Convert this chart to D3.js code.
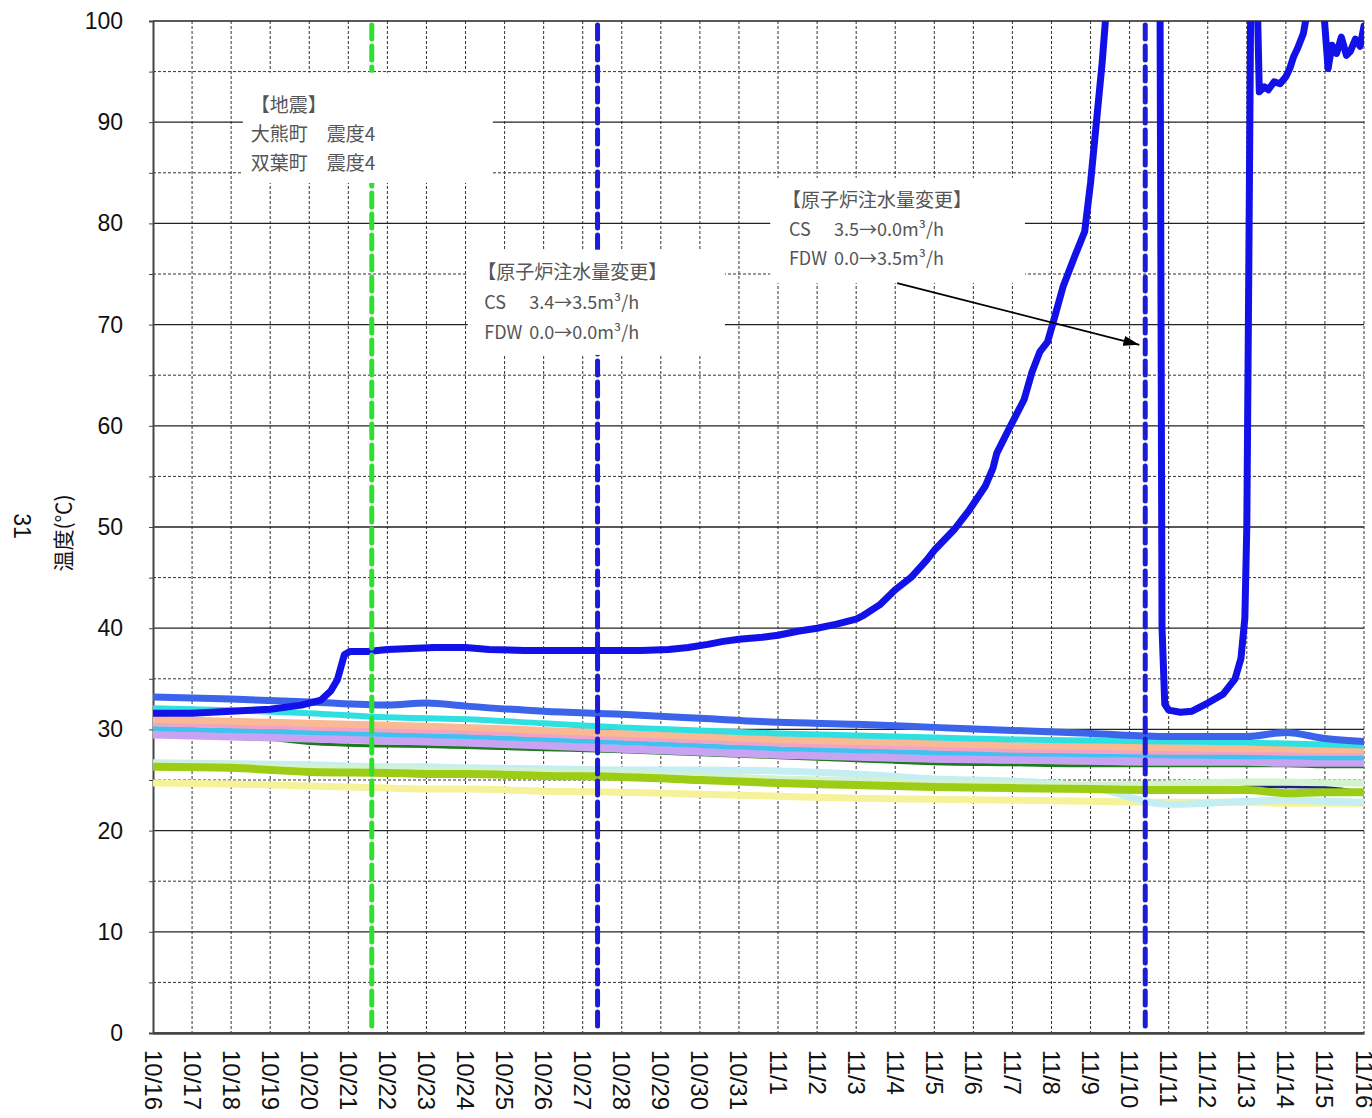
<!DOCTYPE html>
<html><head><meta charset="utf-8">
<script src="https://cdn.jsdelivr.net/npm/d3@7"></script>
<style>
html,body{margin:0;padding:0;background:#fff;}
svg{display:block;}
</style></head><body>
<svg id="chart" width="1372" height="1118"></svg>
<script>
// ---------- DATA ----------
const tickLabels = ["10/16","10/17","10/18","10/19","10/20","10/21","10/22","10/23","10/24","10/25","10/26","10/27","10/28","10/29","10/30","10/31",
  "11/1","11/2","11/3","11/4","11/5","11/6","11/7","11/8","11/9","11/10","11/11","11/12","11/13","11/14","11/15","11/16"];
const yTickValues = [0,10,20,30,40,50,60,70,80,90,100];

// days since 10/16 for the slowly-varying series
const bandDays   = [0, 2, 4, 6, 7, 8, 10, 12, 14, 16, 18, 20, 22, 24, 26, 28, 29, 30, 31];
const darkGreen  = [29.8,29.5,28.6,28.35,28.3,28.2,28.0,27.8,27.5,27.2,26.9,26.6,26.5,26.4,26.4,26.4,26.4,26.3,26.3];
const lavender   = [29.5,29.3,29.1,28.9,28.8,28.7,28.4,28.1,27.8,27.5,27.3,27.1,27.0,26.9,26.8,26.8,26.7,26.7,26.7];
const skyBlue    = [30.1,29.9,29.7,29.5,29.4,29.3,29.0,28.7,28.4,28.1,27.9,27.7,27.6,27.5,27.4,27.3,27.3,27.2,27.2];
const pink       = [30.6,30.4,30.2,30.0,29.9,29.8,29.5,29.2,28.9,28.6,28.4,28.2,28.0,27.9,27.8,27.8,27.7,27.7,27.7];
const peach      = [31.0,30.8,30.6,30.4,30.3,30.2,29.9,29.6,29.3,29.0,28.8,28.6,28.4,28.3,28.2,28.1,28.1,28.0,28.0];
const cyan       = [32.1,31.9,31.6,31.2,31.1,31.0,30.6,30.2,29.9,29.6,29.4,29.2,29.0,28.9,28.8,28.7,28.6,28.5,28.4];
const royalBlue  = [33.2,33.0,32.7,32.4,32.6,32.3,31.8,31.5,31.1,30.7,30.5,30.2,29.9,29.6,29.3,29.3,29.7,29.1,28.8];
const paleCyan   = [26.7,26.6,26.5,26.3,26.3,26.2,26.1,26.0,26.0,25.9,25.6,25.1,24.9,24.3,22.6,22.9,23.0,22.9,22.8];
const mint       = [26.5,26.4,26.2,26.1,26.0,26.0,25.8,25.7,25.4,25.1,24.9,24.7,24.6,24.5,24.6,24.8,24.8,24.7,24.7];
const paleYellow = [24.7,24.6,24.4,24.2,24.1,24.1,23.9,23.8,23.6,23.4,23.2,23.1,23.0,22.9,22.8,22.8,22.7,22.7,22.7];
const navy       = [26.2,26.1,25.8,25.7,25.7,25.6,25.4,25.3,25.0,24.7,24.5,24.3,24.2,24.1,24.0,24.3,24.3,24.25,23.8];
const yellowGreen= [26.3,26.2,25.8,25.7,25.6,25.6,25.4,25.3,25.0,24.7,24.5,24.3,24.2,24.1,24.0,24.0,23.7,23.8,23.8];

// main (rising) temperature
const mainDays = [0,1,2,3,3.8,4.3,4.55,4.72,4.9,5.05,5.5,6,6.6,7.2,8,8.6,9.5,10.5,11.5,12.5,13.2,13.7,14.2,14.6,15,15.6,16,16.5,17,17.5,18,18.2,18.6,19,19.4,19.8,20,20.5,20.9,21.3,21.5,21.6,21.9,22.3,22.5,22.7,22.9,23.05,23.3,23.6,23.85,24.0,24.15,24.3,24.42,24.55,25.7,25.78,25.83,25.9,26.0,26.3,26.6,27.0,27.4,27.7,27.85,27.95,28.0,28.05,28.1,28.15,28.22,28.28,28.32,28.45,28.55,28.7,28.85,29.0,29.1,29.2,29.3,29.45,29.55,29.6,29.9,29.97,30.08,30.18,30.3,30.42,30.55,30.65,30.78,30.9,31.0];
const mainVals = [31.6,31.6,31.8,32.0,32.4,32.9,33.8,34.9,37.4,37.7,37.7,37.9,38.0,38.1,38.1,37.9,37.8,37.8,37.8,37.8,37.9,38.1,38.4,38.7,38.9,39.1,39.3,39.7,40.0,40.4,40.9,41.3,42.3,43.8,45.0,46.7,47.7,49.7,51.7,54.0,55.8,57.3,59.6,62.6,65.3,67.3,68.3,70.3,73.8,76.8,79.2,84.0,90.0,96.0,102,125,125,100,40,32.5,31.9,31.7,31.8,32.6,33.5,35.0,37.0,41.0,50,75,102,125,125,100,93.0,93.5,93.2,94.0,93.8,94.5,95.3,96.5,97.3,98.8,101,125,125,101,95.3,97.6,96.8,98.4,96.6,97.0,98.2,97.5,99.5];

// event lines (days since 10/16)
const eventDays = [5.6, 11.38, 25.4];
const eventColors = ["#2ee02e", "#1c1cd8", "#1c1cd8"];

// annotation texts
const quakeLines = ["【地震】", "大熊町　震度4", "双葉町　震度4"];
const inj1Title = "【原子炉注水量変更】";
const inj1Rows = [["CS", "3.4→3.5m³/h"], ["FDW", "0.0→0.0m³/h"]];
const inj2Title = "【原子炉注水量変更】";
const inj2Rows = [["CS", "3.5→0.0m³/h"], ["FDW", "0.0→3.5m³/h"]];

// ---------- LAYOUT ----------
const M = {left:153, right:1364, top:21, bottom:1033};
const svg = d3.select("#chart");
const x = d3.scaleLinear().domain([0,31]).range([M.left, M.right]);
const y = d3.scaleLinear().domain([0,100]).range([M.bottom, M.top]);
const fontLatin = "'Liberation Sans', Arial, sans-serif";
const fontJP = "'Noto Sans CJK JP', 'Noto Sans', sans-serif";

svg.append("defs").append("clipPath").attr("id","plotclip")
  .append("rect").attr("x",M.left).attr("y",M.top).attr("width",M.right-M.left).attr("height",M.bottom-M.top);

// grid
const grid = svg.append("g");
d3.range(5,100,10).forEach(v=>{
  grid.append("line").attr("x1",M.left).attr("x2",M.right).attr("y1",y(v)).attr("y2",y(v))
    .attr("stroke","#333").attr("stroke-width",1).attr("stroke-dasharray","3,2");
});
d3.range(1,32).forEach(d=>{
  grid.append("line").attr("x1",x(d)).attr("x2",x(d)).attr("y1",M.top).attr("y2",M.bottom)
    .attr("stroke","#333").attr("stroke-width",1).attr("stroke-dasharray","3,2");
});
yTickValues.forEach(v=>{
  grid.append("line").attr("x1",M.left).attr("x2",M.right).attr("y1",y(v)).attr("y2",y(v))
    .attr("stroke","#222").attr("stroke-width",1.3);
});

// y axis
const yAxis = d3.axisLeft(y).tickValues(d3.range(0,101,5)).tickSize(4).tickFormat("");
const yg = svg.append("g").attr("transform",`translate(${M.left},0)`).call(yAxis);
yg.select(".domain").attr("stroke","#444").attr("stroke-width",2);
yg.selectAll(".tick line").attr("stroke","#444");
svg.append("g").selectAll("text").data(yTickValues).join("text")
  .attr("x",123).attr("y",d=>y(d)).attr("text-anchor","end").attr("dominant-baseline","central")
  .attr("font-family",fontLatin).attr("font-size",23).attr("fill","#111").text(d=>d);

// x axis
const xAxis = d3.axisBottom(x).tickValues(d3.range(0,32)).tickSize(0).tickFormat("");
const xg = svg.append("g").attr("transform",`translate(0,${M.bottom})`).call(xAxis);
xg.select(".domain").attr("stroke","#444").attr("stroke-width",2.5);
svg.append("g").selectAll("text").data(tickLabels).join("text")
  .attr("transform",(d,i)=>`translate(${x(i)},${M.bottom+17}) rotate(90)`)
  .attr("text-anchor","start").attr("dominant-baseline","central")
  .attr("font-family",fontLatin).attr("font-size",24).attr("fill","#111").text(d=>d);

// axis titles
svg.append("text").attr("transform","translate(62,533) rotate(-90)")
  .attr("text-anchor","middle").attr("dominant-baseline","central")
  .attr("font-family",fontJP).attr("font-size",21).attr("fill","#111").text("温度(℃)");
svg.append("text").attr("transform","translate(22,526) rotate(90)")
  .attr("text-anchor","middle").attr("dominant-baseline","central")
  .attr("font-family",fontLatin).attr("font-size",23).attr("fill","#111").text("31");

// series
const series = [
  {vals: darkGreen, color:"#1c7a1c", w:3},
  {vals: lavender, color:"#c9a2f2", w:8},
  {vals: skyBlue, color:"#40c2f0", w:5},
  {vals: pink, color:"#f2a2c4", w:6},
  {vals: peach, color:"#f8b994", w:7},
  {vals: cyan, color:"#2fe0e0", w:6},
  {vals: royalBlue, color:"#3b64ea", w:7},
  {vals: paleYellow, color:"#f6f29a", w:7},
  {vals: paleCyan, color:"#c4eef2", w:7},
  {vals: mint, color:"#d2f2d0", w:7},
  {vals: navy, color:"#1a2478", w:2.5},
  {vals: yellowGreen, color:"#9ccc14", w:8},
];
const lineGen = d3.line().x(d=>x(d[0])).y(d=>y(d[1])).curve(d3.curveMonotoneX);
const plot = svg.append("g").attr("clip-path","url(#plotclip)");
const order = [7,8,9,10,11,0,1,2,3,4,5,6];
order.forEach(i=>{
  const s = series[i];
  plot.append("path").datum(bandDays.map((d,j)=>[d,s.vals[j]]))
    .attr("d",lineGen).attr("fill","none").attr("stroke",s.color)
    .attr("stroke-width",s.w).attr("stroke-linejoin","round").attr("stroke-linecap","round");
});
plot.append("path").datum(mainDays.map((d,j)=>[d,mainVals[j]]))
  .attr("d",d3.line().x(d=>x(d[0])).y(d=>y(d[1])))
  .attr("fill","none").attr("stroke","#1212e8").attr("stroke-width",7)
  .attr("stroke-linejoin","round").attr("stroke-linecap","round");

// event lines
svg.append("g").selectAll("line").data(eventDays).join("line")
  .attr("x1",d=>x(d)).attr("x2",d=>x(d)).attr("y1",y(100)+4).attr("y2",y(0))
  .attr("stroke",(d,i)=>eventColors[i]).attr("stroke-width",5)
  .attr("stroke-dasharray","14,7").attr("stroke-linecap","round");

// annotation boxes
function box(x0,x1,v0,v1){
  svg.append("rect").attr("x",x(x0)).attr("y",y(v0)).attr("width",x(x1)-x(x0)).attr("height",y(v1)-y(v0)).attr("fill","#fff");
}
function textBlock(day, val, title, rows, lh){
  const g = svg.append("g").attr("font-family",fontJP).attr("fill","#555");
  const tx = x(day), ty = y(val);
  g.append("text").attr("x",tx).attr("y",ty).attr("font-size",19).text(title);
  rows.forEach((r,i)=>{
    const t = g.append("text").attr("x",tx+7).attr("y",ty+lh*(i+1)).attr("font-size",18);
    t.append("tspan").text(r[0]);
    t.append("tspan").attr("x",tx+52).text(r[1]);
  });
}
box(2.3, 8.7, 94.9, 84.0);
const qg = svg.append("g").attr("font-family",fontJP).attr("font-size",19).attr("fill","#555");
quakeLines.forEach((t,i)=>{
  qg.append("text").attr("x",x(2.5)).attr("y",y(91.0)+29*i).text(t);
});
box(8.06, 14.64, 77.4, 67.0);
textBlock(8.3, 74.5, inj1Title, inj1Rows, 30);
box(15.8, 22.32, 84.5, 74.1);
textBlock(16.1, 81.6, inj2Title, inj2Rows, 29);

// arrow
const defs = svg.select("defs");
defs.append("marker").attr("id","arr").attr("markerUnits","userSpaceOnUse")
  .attr("markerWidth",16).attr("markerHeight",10).attr("refX",16).attr("refY",5).attr("orient","auto")
  .append("path").attr("d","M0,0 L16,5 L0,10 z").attr("fill","#000");
svg.append("line").attr("x1",x(19.05)).attr("y1",y(74.1)).attr("x2",x(25.25)).attr("y2",y(68.0))
  .attr("stroke","#000").attr("stroke-width",1.8).attr("marker-end","url(#arr)");
</script>
</body></html>
